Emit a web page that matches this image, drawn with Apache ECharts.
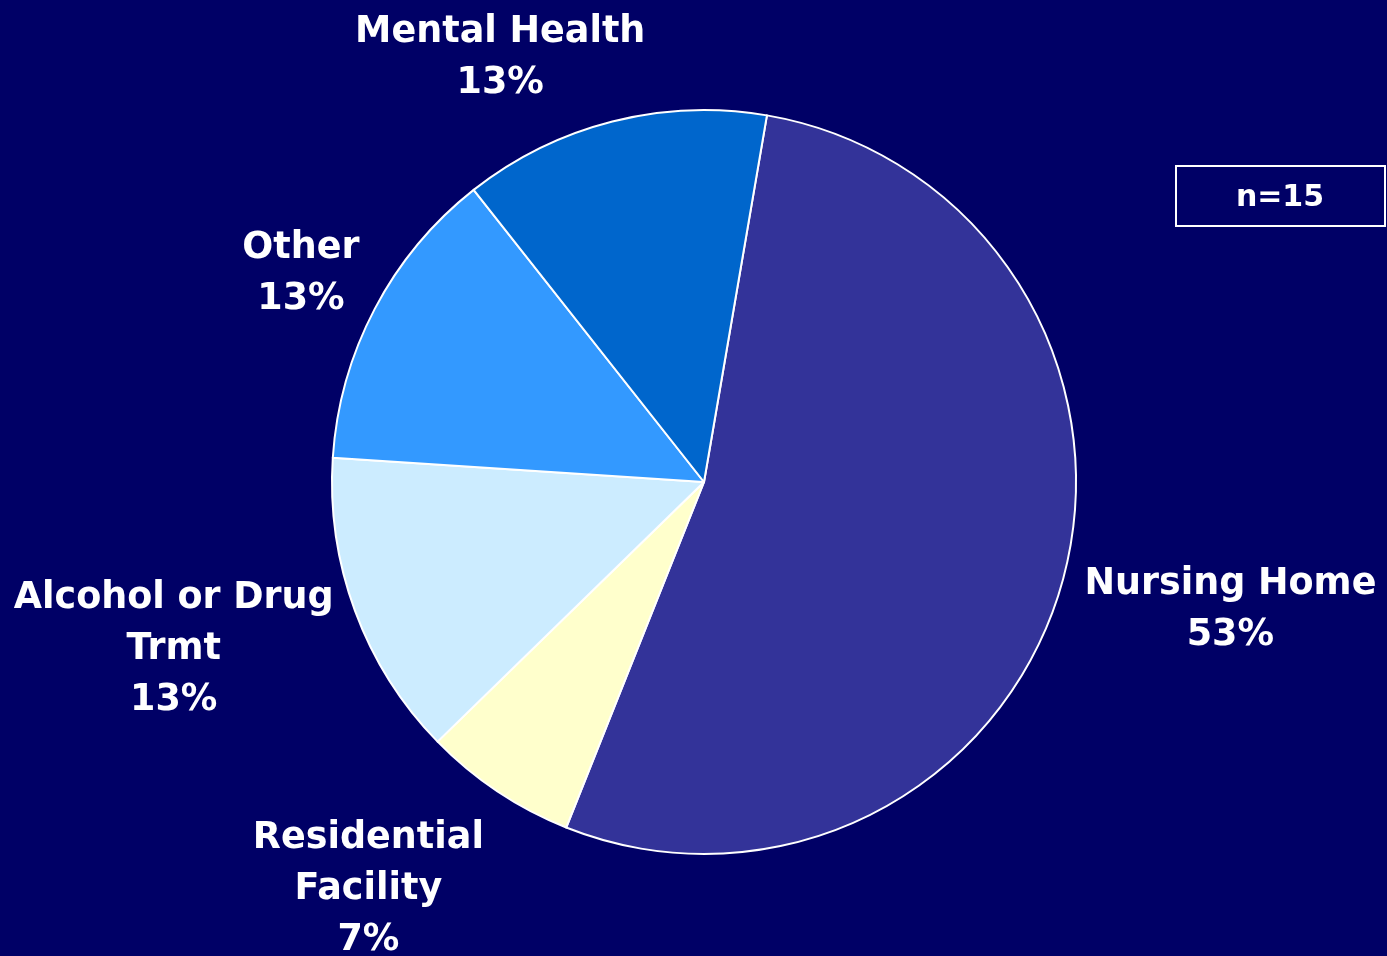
<!DOCTYPE html>
<html>
<head>
<meta charset="utf-8">
<style>
  html, body { margin: 0; padding: 0; background: #000066; }
  #chart { width: 1387px; height: 956px; }
</style>
<script src="https://cdn.jsdelivr.net/npm/echarts@6/dist/echarts.min.js"></script>
</head>
<body>
<div id="chart"></div>
<script>
// Discharge destinations (count of cases), drawn clockwise from the top
const categories = ['Nursing Home', 'Residential\nFacility', 'Alcohol or Drug\nTrmt', 'Other', 'Mental Health'];
const counts = [8, 1, 2, 2, 2];
const sliceColors = ['#333399', '#FFFFCC', '#CCECFF', '#3399FF', '#0066CC'];

// Label placement: distance from the pie centre (px) and angular nudge (deg)
// relative to each slice's middle direction
const labelDistance = [541, 525, 555, 455, 474];
const labelNudge = [2.4, -6.0, -3.1, 0.1, 11.2];

const total = counts.reduce((a, b) => a + b, 0);
const pieCenter = [704, 482];
const pieRadius = 372;
const startAngle = 80.26;

// Middle direction of each slice (degrees, counter-clockwise from east)
const midAngles = [];
(function () {
  let a = startAngle;
  counts.forEach(function (v) {
    const span = v / total * 360;
    midAngles.push(a - span / 2);
    a -= span;
  });
})();

const chart = echarts.init(document.getElementById('chart'), null, { renderer: 'canvas' });

const labelFont = {
  color: '#FFFFFF',
  fontFamily: 'DejaVu Sans',
  fontWeight: 'bold',
  fontSize: 36.5,
  lineHeight: 51
};

chart.setOption({
  backgroundColor: '#000066',
  animation: false,
  series: [{
    type: 'pie',
    center: pieCenter,
    radius: pieRadius,
    startAngle: startAngle,
    clockwise: true,
    avoidLabelOverlap: false,
    data: categories.map(function (name, i) {
      return { name: name, value: counts[i], itemStyle: { color: sliceColors[i] } };
    }),
    itemStyle: { borderColor: '#FFFFFF', borderWidth: 2 },
    emphasis: { disabled: true },
    label: Object.assign({
      show: true,
      position: 'outside',
      formatter: function (p) {
        return p.name + '\n' + Math.round(p.value / total * 100) + '%';
      }
    }, labelFont),
    labelLine: { show: false },
    labelLayout: function (params) {
      const i = params.dataIndex;
      const ang = (midAngles[i] + labelNudge[i]) * Math.PI / 180;
      return {
        x: pieCenter[0] + labelDistance[i] * Math.cos(ang),
        y: pieCenter[1] - labelDistance[i] * Math.sin(ang) + 3.5,
        align: 'center',
        verticalAlign: 'middle'
      };
    }
  }],
  graphic: [{
    type: 'rect',
    x: 1176,
    y: 166,
    shape: { x: 0, y: 0, width: 209, height: 60 },
    style: { fill: 'none', stroke: '#FFFFFF', lineWidth: 2 }
  }, {
    type: 'text',
    x: 1280,
    y: 198,
    style: {
      text: 'n=' + total,
      fill: '#FFFFFF',
      font: 'bold 30px "DejaVu Sans"',
      align: 'center',
      verticalAlign: 'middle'
    }
  }]
});
</script>
</body>
</html>
